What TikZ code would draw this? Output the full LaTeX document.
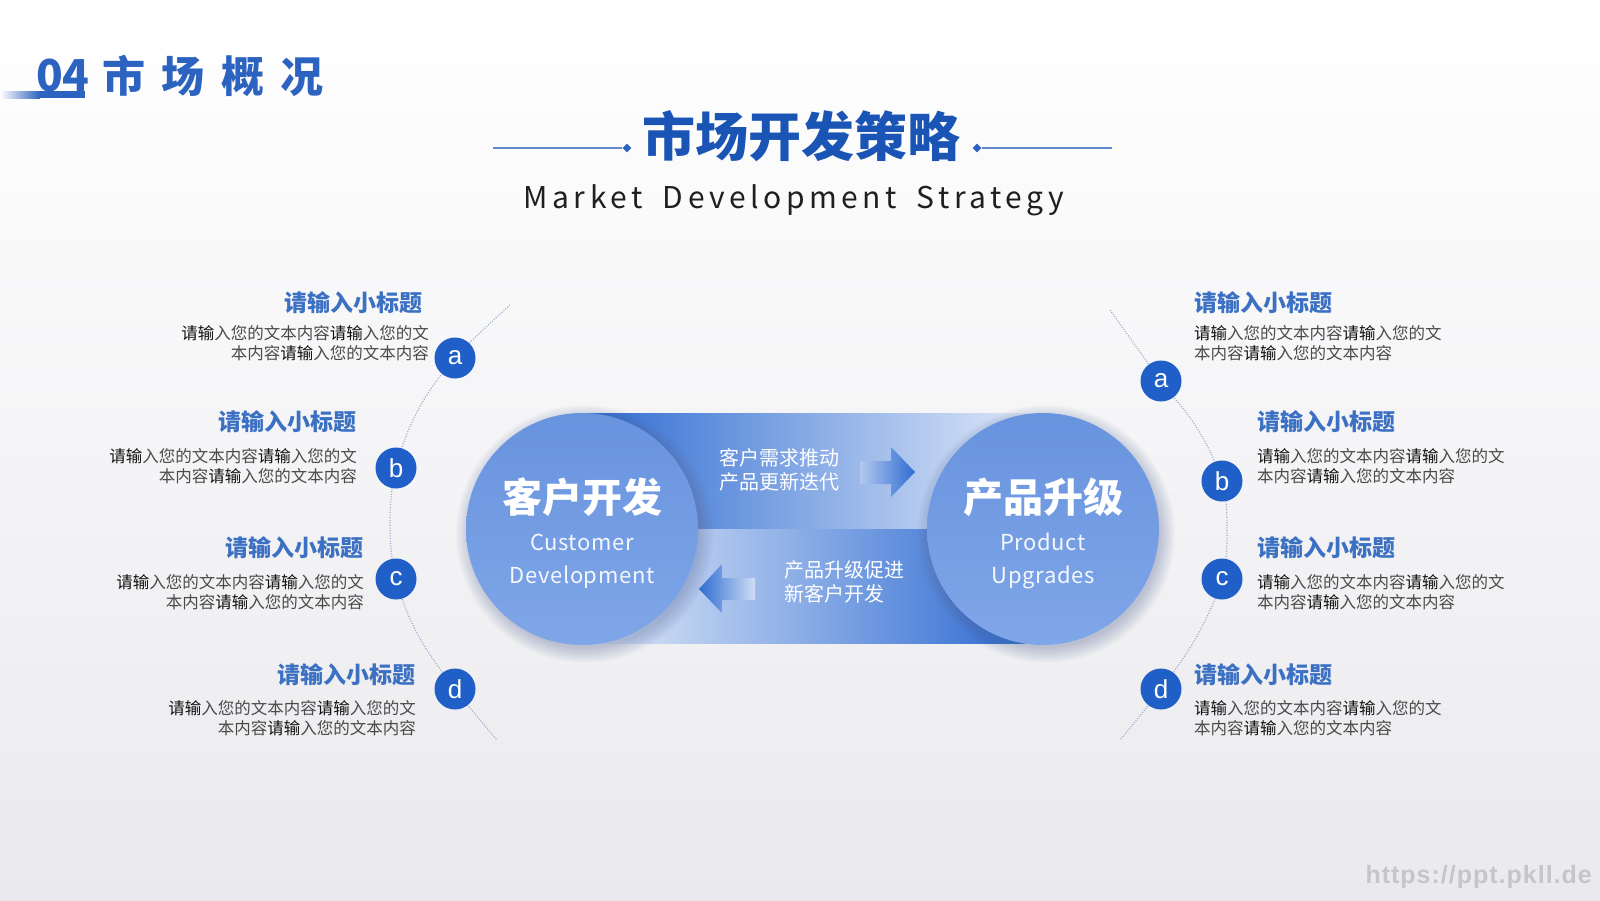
\documentclass[tikz,border=0pt]{standalone}
\usepackage{fontspec}
\setmainfont{Noto Sans CJK SC}
\newfontfamily\subfont[LetterSpace=15,WordSpace=1.8]{Noto Sans CJK SC}
\newfontfamily\latfont[LetterSpace=3]{Noto Sans CJK SC}
\newfontfamily\wmfont[LetterSpace=4]{Liberation Sans}
\newfontfamily\badgefont{Liberation Sans}
\usetikzlibrary{shapes.geometric}
\definecolor{hblue}{HTML}{2D63C0}
\definecolor{titleblue}{HTML}{1A55B5}
\definecolor{headblue}{HTML}{3B70C3}
\definecolor{badgeblue}{HTML}{1F5FC7}
\definecolor{banddark}{HTML}{2F6CD2}
\definecolor{bandmid}{HTML}{7FA4E3}
\definecolor{bandlight}{HTML}{E4ECF9}
\definecolor{circtop}{HTML}{6893DE}
\definecolor{circbot}{HTML}{7FA6E8}
\definecolor{bgbot}{HTML}{EAEAEE}
\definecolor{arcgray}{HTML}{9AAAC8}
\definecolor{bodygray}{HTML}{4A4A4A}
\definecolor{bodydark}{HTML}{111111}
\definecolor{wmgray}{HTML}{C6C6C9}
\definecolor{shadowc}{HTML}{5E6E9A}
\newcommand\myqs{{\color{bodydark}请输}}
\newcommand\bodytext{\myqs 入您的文本内容\myqs 入您的文\\本内容\myqs 入您的文本内容}
\begin{document}
\begin{tikzpicture}[x=1pt,y=-1pt,
  head/.style={inner sep=0, text=headblue, font=\fontsize{23}{28}\selectfont\bfseries},
  bodyblk/.style={inner sep=0, text=bodygray, font=\fontsize{16.5}{20.4}\selectfont},
  badge/.style={circle, fill=badgeblue, minimum size=41pt, inner sep=0, text=white, font=\badgefont\fontsize{26}{26}\selectfont},
  bigcirc/.style={circle, minimum size=232pt, inner sep=0, top color=circtop, bottom color=circbot},
  cjkbig/.style={inner sep=0, text=white, font=\fontsize{40}{44}\selectfont\bfseries},
  latin/.style={inner sep=0, text=white, text opacity=0.92, font=\latfont\fontsize{22}{26}\selectfont},
  bandtxt/.style={inner sep=0, text=white, align=left, font=\fontsize{20}{24}\selectfont},
  arcline/.style={arcgray, line width=1.2pt, dash pattern=on 1pt off 1.6pt},
  tline/.style={draw=hblue!75, line width=1.2pt},
  diam/.style={diamond, fill=hblue, inner sep=0, minimum size=9pt}
]
\useasboundingbox (0,0) rectangle (1600,900);
\shade[top color=white, bottom color=bgbot] (0,0) rectangle (1600,900);

% header
\shade[left color=white, right color=hblue] (0,91) rectangle (40,98);
\fill[hblue] (40,91) rectangle (85,98);
\node[anchor=base west, inner sep=0, text=hblue, font=\fontsize{44}{48}\selectfont\bfseries] (num) at (36,91) {04};
\node[anchor=west, inner sep=0, text=hblue, font=\fontsize{43}{48}\selectfont\bfseries] (hdr) at (102,76) {市\hspace{16.5pt}场\hspace{16.5pt}概\hspace{16.5pt}况};

% title
\node[inner sep=0, text=titleblue, font=\fontsize{53}{60}\selectfont\bfseries] (title) at (801,136) {市场开发策略};
\coordinate (tl) at (493,148);
\coordinate (tr) at (1112,148);
\node[diam] (dl) at (627,148) {};
\node[diam] (dr) at (977,148) {};
\draw[tline] (tl) -- (dl);
\draw[tline] (dr) -- (tr);
\node[anchor=base, inner sep=0, text=black!88, font=\subfont\fontsize{30}{36}\selectfont] (sub) at (794,208) {Market Development Strategy};

% bands
\shade[left color=banddark, middle color=bandmid, right color=bandlight] (582,413) rectangle (1043,529);
\shade[left color=bandlight, middle color=bandmid, right color=banddark] (582,529) rectangle (1025,643);
\shade[left color=bandmid!60!white, right color=banddark] (860,461) -- (891,461) -- (891,447) -- (915,472) -- (891,497) -- (891,484) -- (860,484) -- cycle;
\shade[left color=banddark, right color=bandlight!80!bandmid] (699,589) -- (722,564) -- (722,578) -- (755,578) -- (755,600) -- (722,600) -- (722,613) -- cycle;
\node[bandtxt, anchor=west] (t1) at (719,470) {客户需求推动\\产品更新迭代};
\node[bandtxt, anchor=west] (t2) at (784,582) {产品升级促进\\新客户开发};

% circle shadows
\foreach \k in {1,...,16} {
  \fill[shadowc, opacity=0.025] (585,534) circle[radius={113+\k}];
  \fill[shadowc, opacity=0.025] (1046,534) circle[radius={113+\k}];
}
\node[bigcirc] (cl) at (582,529) {};
\node[bigcirc] (cr) at (1043,529) {};
\node[cjkbig] (cltxt) at (582,497) {客户开发};
\node[cjkbig] (crtxt) at (1043,497) {产品升级};
\node[latin, anchor=base] (cl1) at (582,550) {Customer};
\node[latin, anchor=base] (cl2) at (582,583) {Development};
\node[latin, anchor=base] (cr1) at (1043,550) {Product};
\node[latin, anchor=base] (cr2) at (1043,583) {Upgrades};

% left arc
\coordinate (lt) at (510,305);
\coordinate (pla) at (455,358);
\coordinate (l1) at (418,410);
\coordinate (plb) at (396,468);
\coordinate (l2) at (390,523);
\coordinate (plc) at (396,579);
\coordinate (l3) at (418,635);
\coordinate (pld) at (455,689);
\coordinate (lb) at (497,740);
\draw[arcline] plot[smooth, tension=0.6] coordinates {(lt) (pla) (l1) (plb) (l2) (plc) (l3) (pld) (lb)};
% right arc
\coordinate (rt) at (1110,310);
\coordinate (pra) at (1161,381);
\coordinate (r1) at (1197,428);
\coordinate (prb) at (1222,481);
\coordinate (r2) at (1227,530);
\coordinate (prc) at (1222,579);
\coordinate (r3) at (1197,636);
\coordinate (prd) at (1161,689);
\coordinate (rb) at (1120,740);
\draw[arcline] plot[smooth, tension=0.6] coordinates {(rt) (pra) (r1) (prb) (r2) (prc) (r3) (prd) (rb)};

% badges
\node[badge] (ba) at (pla) {a};
\node[badge] (bb) at (plb) {b};
\node[badge] (bc) at (plc) {c};
\node[badge] (bd) at (pld) {d};
\node[badge] (ra) at (pra) {a};
\node[badge] (rbb) at (prb) {b};
\node[badge] (rc) at (prc) {c};
\node[badge] (rd) at (prd) {d};

% left texts
\node[head, anchor=east] (lha) at (423,303) {请输入小标题};
\node[bodyblk, anchor=east, align=right] (lba) at (429,343) {\bodytext};
\node[head, anchor=east] (lhb) at (357,422) {请输入小标题};
\node[bodyblk, anchor=east, align=right] (lbb) at (357,466) {\bodytext};
\node[head, anchor=east] (lhc) at (364,548) {请输入小标题};
\node[bodyblk, anchor=east, align=right] (lbc) at (364,592) {\bodytext};
\node[head, anchor=east] (lhd) at (416,675) {请输入小标题};
\node[bodyblk, anchor=east, align=right] (lbd) at (416,718) {\bodytext};

% right texts
\node[head, anchor=west] (rha) at (1194,303) {请输入小标题};
\node[bodyblk, anchor=west, align=left] (rba) at (1194,343) {\bodytext};
\node[head, anchor=west] (rhb) at (1257,422) {请输入小标题};
\node[bodyblk, anchor=west, align=left] (rbb2) at (1257,466) {\bodytext};
\node[head, anchor=west] (rhc) at (1257,548) {请输入小标题};
\node[bodyblk, anchor=west, align=left] (rbc) at (1257,592) {\bodytext};
\node[head, anchor=west] (rhd) at (1194,675) {请输入小标题};
\node[bodyblk, anchor=west, align=left] (rbd) at (1194,718) {\bodytext};

% watermark
\node[anchor=east, inner sep=0, text=wmgray, font=\wmfont\fontsize{25}{28}\selectfont\bfseries] (wm) at (1592,877) {https://ppt.pkll.de};
\end{tikzpicture}
\end{document}
